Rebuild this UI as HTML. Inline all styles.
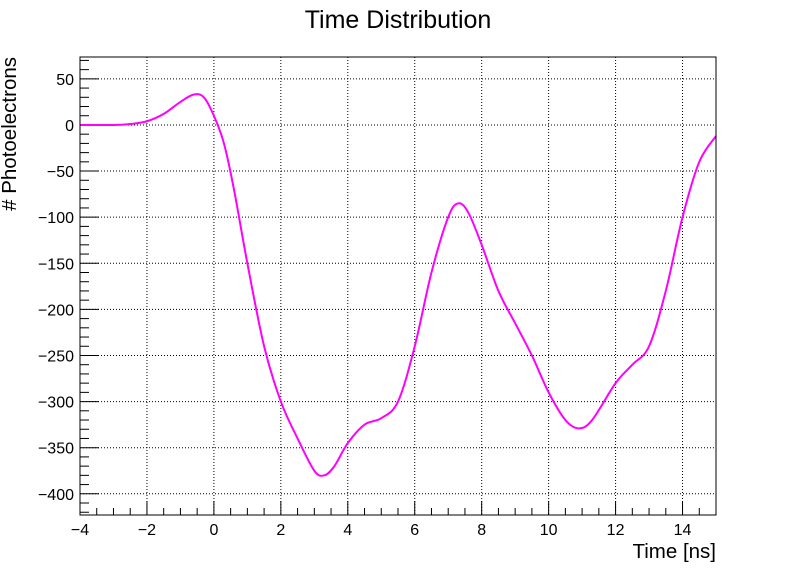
<!DOCTYPE html>
<html><head><meta charset="utf-8"><style>
body{margin:0;background:#fff}
svg text{font-family:"Liberation Sans",sans-serif;fill:#000}
</style></head><body>
<svg id="chart" width="796" height="572" xmlns="http://www.w3.org/2000/svg">
<rect width="796" height="572" fill="#fff"/>
<text x="398" y="28" font-size="25" text-anchor="middle">Time Distribution</text>
<g id="grid"></g>
<g id="ticks"></g>
<path id="curve" fill="none" stroke="#ff00ff" stroke-width="2"/>
<rect x="80" y="57" width="636" height="458" fill="none" stroke="#000" stroke-width="1"/>
<text x="716" y="558" font-size="20.5" text-anchor="end">Time [ns]</text>
<text transform="translate(16,57) rotate(-90)" font-size="20.5" text-anchor="end"># Photoelectrons</text>
</svg>
<script>
const timeValues=[-4,-3,-2.5,-2,-1.5,-1,-0.6,-0.3,0,0.3,0.6,1,1.5,2,2.5,3,3.3,3.6,4,4.5,5,5.5,6,6.5,7,7.3,7.6,8,8.5,9,9.5,10,10.5,10.9,11.3,12,12.5,13,13.5,14,14.5,15];
const photoValues=[0,0,1,4,12,25,33,30,10,-20,-70,-150,-240,-300,-340,-375,-380,-370,-345,-325,-318,-300,-240,-160,-100,-85,-95,-130,-180,-215,-250,-290,-320,-329,-320,-280,-260,-240,-180,-100,-40,-12];
const xTicks=[-4,-2,0,2,4,6,8,10,12,14];
const yTicks=[50,0,-50,-100,-150,-200,-250,-300,-350,-400];
const X0=80,X1=716,Y0=57,Y1=515,XMIN=-4,XMAX=15,YMIN=-423,YMAX=73.7;
const xs=v=>X0+(v-XMIN)/(XMAX-XMIN)*(X1-X0);
const ys=v=>Y1-(v-YMIN)/(YMAX-YMIN)*(Y1-Y0);
const NS="http://www.w3.org/2000/svg";
const svg=document.getElementById('chart'),grid=document.getElementById('grid'),tk=document.getElementById('ticks');
function mk(tag,a,p){const e=document.createElementNS(NS,tag);for(const k in a)e.setAttribute(k,a[k]);p.appendChild(e);return e;}
xTicks.forEach(t=>{const x=xs(t);
 if(t>XMIN){const g=mk('line',{x1:x,x2:x,y1:Y0,y2:Y1,stroke:'#000','stroke-dasharray':'1,2'},grid);
 }
 const l=mk('line',{x1:x,x2:x,y1:Y1,y2:Y1-14,stroke:'#000'},tk);
 
 const tx=mk('text',{x:x,y:Y1+20,'font-size':16,'text-anchor':'middle'},svg);tx.textContent=t<0?'\u2212'+(-t):t;
 
});
for(let v=XMIN;v<=XMAX;v+=0.5){if(Math.abs(v/2-Math.round(v/2))<1e-6)continue;const x=xs(v);
 const l=mk('line',{x1:x,x2:x,y1:Y1,y2:Y1-7,stroke:'#000'},tk);
 }
yTicks.forEach(t=>{const y=ys(t);
 const g=mk('line',{x1:X0,x2:X1,y1:y,y2:y,stroke:'#000','stroke-dasharray':'1,2'},grid);
 
 const l=mk('line',{x1:X0,x2:X0+19,y1:y,y2:y,stroke:'#000'},tk);
 
 const tx=mk('text',{x:X0-6,y:y+6,'font-size':16,'text-anchor':'end'},svg);tx.textContent=t<0?'\u2212'+(-t):t;
 
});
for(let v=-420;v<=70;v+=10){if(v%50===0)continue;const y=ys(v);
 const l=mk('line',{x1:X0,x2:X0+9,y1:y,y2:y,stroke:'#000'},tk);
 }
const P=timeValues.map((t,i)=>[xs(t),ys(photoValues[i])]);
let d='M'+P[0][0]+','+P[0][1];
for(let i=0;i<P.length-1;i++){const p0=P[Math.max(0,i-1)],p1=P[i],p2=P[i+1],p3=P[Math.min(P.length-1,i+2)];
 const c1=[p1[0]+(p2[0]-p0[0])/6,p1[1]+(p2[1]-p0[1])/6],c2=[p2[0]-(p3[0]-p1[0])/6,p2[1]-(p3[1]-p1[1])/6];
 d+=`C${c1[0]},${c1[1]} ${c2[0]},${c2[1]} ${p2[0]},${p2[1]}`;}
document.getElementById('curve').setAttribute('d',d);
</script>
</body></html>
